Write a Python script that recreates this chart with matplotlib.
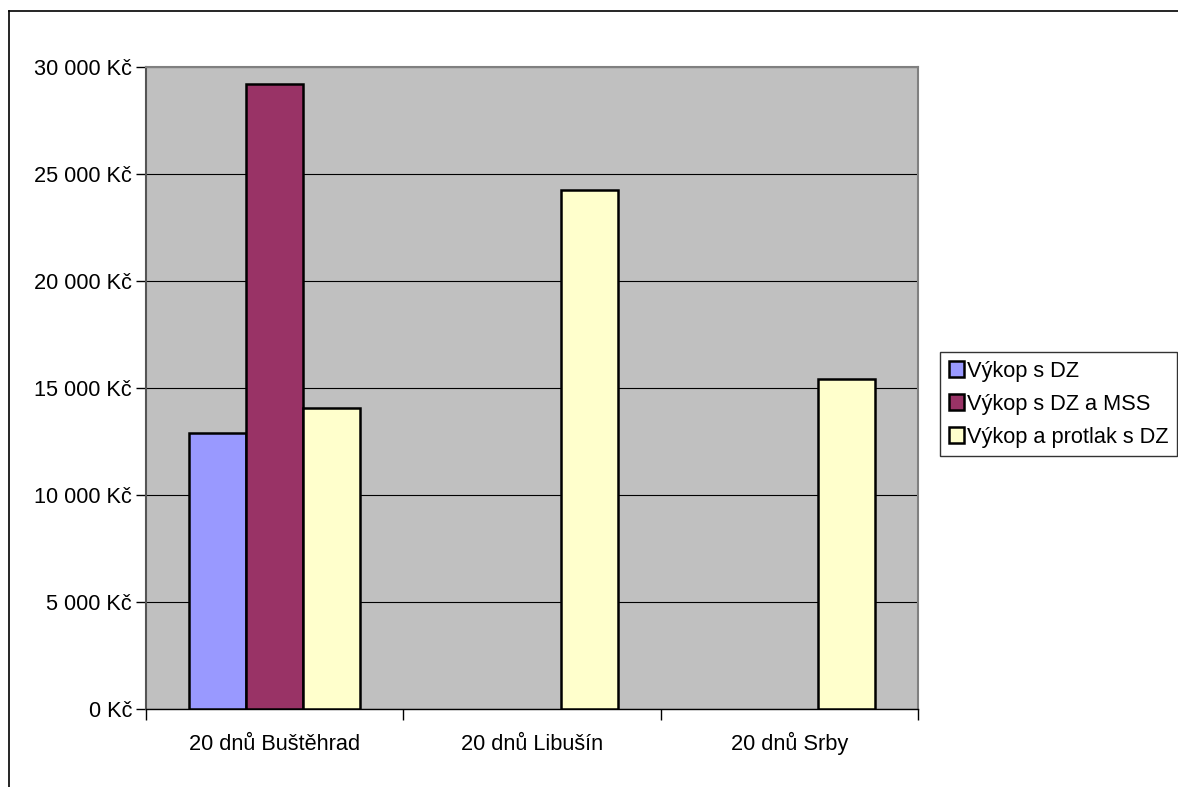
import numpy as np
import matplotlib
matplotlib.use("Agg")
import matplotlib.pyplot as plt
from matplotlib.lines import Line2D
import matplotlib.transforms as mtransforms

plt.rcParams['font.family'] = ['Liberation Sans', 'DejaVu Sans']

categories = ["20 dnů Buštěhrad", "20 dnů Libušín", "20 dnů Srby"]
series_names = ["Výkop s DZ", "Výkop s DZ a MSS", "Výkop a protlak s DZ"]
vykop_dz = [12920, np.nan, np.nan]
vykop_dz_mss = [29200, np.nan, np.nan]
vykop_protlak = [14080, 24230, 15440]
colors = ["#9999FF", "#993366", "#FFFFCC"]
yticks = [0, 5000, 10000, 15000, 20000, 25000, 30000]
ytick_labels = ["0 Kč", "5 000 Kč", "10 000 Kč", "15 000 Kč", "20 000 Kč", "25 000 Kč", "30 000 Kč"]

W, H = 1178, 787
fig = plt.figure(figsize=(W / 100, H / 100), dpi=100)
ax = fig.add_axes([146 / W, 1 - 709 / H, (918 - 146) / W, (709 - 67) / H])
ax.set_facecolor("#C0C0C0")

x = np.arange(len(categories))
bw = 2 / 9
for i, (vals, name, c) in enumerate(zip([vykop_dz, vykop_dz_mss, vykop_protlak], series_names, colors)):
    ax.bar(x + (i - 1) * bw, vals, width=bw, color=c, edgecolor="black",
           linewidth=1.8, label=name, zorder=3)

ax.set_xlim(-0.5, 2.5)
ax.set_ylim(0, 30000)
ax.set_yticks(yticks)
ax.set_yticklabels(ytick_labels, fontsize=15.7)
ax.yaxis.grid(True, color="black", linewidth=0.8, zorder=1)
ax.set_axisbelow(True)

# category labels on a common baseline, tick marks at group boundaries
ax.set_xticks([-0.5, 0.5, 1.5, 2.5])
ax.set_xticklabels([])
ax.tick_params(axis="x", length=8, width=1, color="black")
trans = mtransforms.blended_transform_factory(ax.transData, ax.transAxes)
for xi, cat in zip(x, categories):
    ax.text(xi, -0.064, cat, transform=trans, ha="center", va="baseline", fontsize=15.7)
ax.tick_params(axis="y", length=7, width=1, color="black", pad=3)

ax.spines["left"].set_color("#555555")
ax.spines["left"].set_linewidth(1.5)
ax.spines["bottom"].set_color("black")
ax.spines["bottom"].set_linewidth(1)
ax.spines["top"].set_color("#808080")
ax.spines["top"].set_linewidth(1.5)
ax.spines["right"].set_color("#808080")
ax.spines["right"].set_linewidth(1.5)

leg = ax.legend(loc="upper left", bbox_to_anchor=(940 / W, 1 - 352 / H),
                bbox_transform=fig.transFigure, fontsize=15.7, frameon=True,
                fancybox=False, edgecolor="black", handlelength=0.7,
                handleheight=0.7, handletextpad=0.15, borderpad=0.4,
                labelspacing=0.55, borderaxespad=0)
leg.get_frame().set_linewidth(1)

# chart area border
fig.add_artist(Line2D([9 / W, 9 / W], [0, 1 - 11 / H], color="black", linewidth=1.2))
fig.add_artist(Line2D([9 / W, 1], [1 - 11 / H, 1 - 11 / H], color="black", linewidth=1.2))

fig.savefig("out.png", dpi=100)
